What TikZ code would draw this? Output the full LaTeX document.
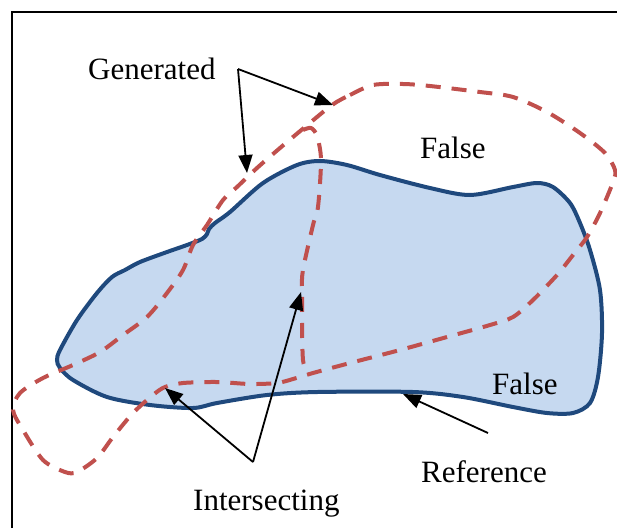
\documentclass[tikz,border=0pt]{standalone}
\usepackage{fontspec}
\setmainfont{Liberation Serif}
\usetikzlibrary{arrows.meta}

\definecolor{refblue}{RGB}{198,217,240}
\definecolor{refline}{RGB}{31,73,125}
\definecolor{genred}{RGB}{192,80,77}

\begin{document}
\begin{tikzpicture}[
	x = 1pt, y = -1pt, % pixel units, y downwards
	> = {Stealth[length=18pt, width=14pt, inset=0pt]}, % arrow head style
	font = \fontsize{31}{36}\selectfont,
	txt/.style = {inner sep=0pt, anchor=base west},
	pointer/.style = {->, line width=1.8pt},
	reference/.style = {draw=refline, fill=refblue, line width=4pt},
	generated/.style = {draw=genred, line width=4pt, dash pattern=on 15pt off 11pt}
	]

	\useasboundingbox (0,0) rectangle (617,528);
	\draw[line width=2.5pt] (12,528) -- (12,12) -- (617,12);

	% reference region
	\draw[reference] plot[smooth cycle, tension=0.5] coordinates {
		(57,360) (60,350) (77,320) (97,293) (112,277) (125,270) (140,262)
		(167,252) (187,245) (202,239) (207,234) (209,229) (215,223) (230,212)
		(263,183) (297,165) (320,161) (347,165) (380,175) (430,188) (470,195)
		(513,187) (537,183) (553,187) (570,203) (580,223) (590,250) (600,290)
		(602,333) (598,377) (590,403) (573,413) (547,413) (513,407) (463,397)
		(413,392) (317,392) (267,395) (217,403) (193,408) (150,405) (107,397)
		(73,380) (60,368)};

	% generated contour
	\draw[generated] plot[smooth cycle, tension=0.5] coordinates {
		(332,105) (350,95) (373,85) (403,84) (430,86) (480,92) (513,97)
		(547,112) (580,133) (605,153) (615,170) (613,182) (600,213) (587,237)
		(573,255) (557,275) (533,300) (513,317) (490,325) (447,337) (400,350)
		(350,363) (313,373) (293,379) (277,383) (250,384) (217,382) (183,383)
		(165,387) (153,395) (133,413) (113,437) (97,458) (77,472) (65,472)
		(43,460) (23,430) (13,410) (20,393) (43,378) (73,365) (100,352)
		(123,335) (147,317) (167,293) (183,270) (193,245) (207,225) (223,200)
		(237,187) (257,168) (280,148) (305,127)};
	\draw[generated] plot[smooth, tension=0.5] coordinates {
		(303,130) (311,128) (317,136) (321,160) (318,207) (313,225) (303,270)
		(302,293) (303,360) (310,372)};

	% labels
	\node[txt] (gen) at (88,79) {Generated};
	\node[txt] (falsetop) at (420,158) {False};
	\node[txt] (falsebot) at (492,394) {False};
	\node[txt] (ref) at (421,482) {Reference};
	\node[txt] (inter) at (193,510) {Intersecting};

	\coordinate (genfrom) at (238,69);
	\coordinate (gentipa) at (333,105);
	\coordinate (gentipb) at (247,173);
	\coordinate (interfrom) at (253,462);
	\coordinate (intertipa) at (165,388);
	\coordinate (intertipb) at (301,292);
	\coordinate (reffrom) at (488,433);
	\coordinate (reftip) at (403,394);

	\draw[pointer] (genfrom) -- (gentipa);
	\draw[pointer] (genfrom) -- (gentipb);
	\draw[pointer] (interfrom) -- (intertipa);
	\draw[pointer] (interfrom) -- (intertipb);
	\draw[pointer] (reffrom) -- (reftip);
\end{tikzpicture}
\end{document}
